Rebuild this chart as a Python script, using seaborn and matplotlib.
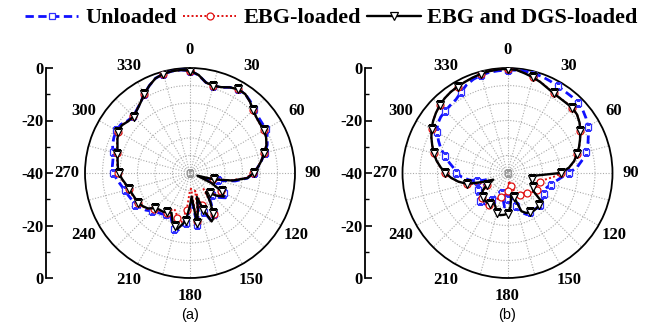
import numpy as np
import pandas as pd
import matplotlib
matplotlib.use("Agg")
import matplotlib.pyplot as plt
from matplotlib.lines import Line2D
import seaborn as sns

# ---- panel (a): azimuth angles (deg) and normalized gain (dB) ----
angles_a = [0, 5, 10, 15, 20, 25, 30, 35, 40, 45, 50, 55, 60, 65, 70, 75, 80, 85, 90, 95,
            100, 105, 110, 115, 120, 125, 130, 135, 140, 145, 150, 153, 156, 160, 164, 168,
            172, 176, 180, 185, 190, 193, 196, 200, 205, 210, 215, 220, 225, 230, 235, 240,
            245, 250, 255, 260, 265, 270, 275, 280, 285, 290, 295, 300, 305, 310, 315, 320,
            325, 330, 335, 340, 345, 350, 355]
unloaded_a = [-1.0, -2.6, -5.0, -5.6, -5.3, -4.0, -3.2, -3.3, -4.3, -5.5, -6.3, -6.6, -6.6,
              -7.5, -8.7, -10.5, -12.3, -14.0, -15.8, -18.0, -22.5, -29.0, -34.0, -29.0,
              -25.0, -23.5, -25.5, -28.0, -30.0, -26.0, -22.0, -20.5, -20.0, -24.0, -29.0,
              -24.5, -20.0, -29.0, -26.5, -21.0, -18.5, -17.3, -18.0, -20.0, -22.3, -21.8,
              -21.0, -20.5, -19.5, -18.0, -17.0, -16.0, -15.6, -15.0, -14.3, -13.3, -12.0,
              -10.8, -10.3, -10.2, -9.6, -8.6, -8.0, -7.6, -7.8, -9.0, -9.4, -8.5, -7.2,
              -5.2, -3.3, -1.6, -0.9, -0.6, -0.6]
ebg_a = [-1.0, -2.6, -5.1, -5.6, -5.2, -4.0, -3.2, -3.3, -4.5, -6.1, -7.1, -7.5, -7.4, -8.0,
         -9.0, -10.9, -12.4, -14.1, -16.0, -18.5, -24.0, -31.0, -36.0, -31.0, -26.5, -24.5,
         -27.0, -30.0, -32.0, -27.0, -22.0, -20.5, -20.0, -27.0, -33.0, -27.0, -21.5, -34.0,
         -33.5, -26.0, -21.0, -20.5, -22.0, -24.5, -25.0, -22.5, -21.8, -21.5, -20.8, -18.8,
         -17.8, -17.0, -16.8, -16.4, -15.8, -15.0, -13.8, -12.7, -12.2, -11.8, -11.2, -10.4,
         -9.4, -8.4, -8.2, -9.2, -9.5, -8.5, -7.1, -5.2, -3.3, -1.6, -0.9, -0.6, -0.6]
ebg_dgs_a = [-1.0, -2.5, -5.0, -5.6, -5.2, -4.0, -3.2, -3.3, -4.5, -6.0, -7.0, -7.4, -7.4,
             -8.0, -9.0, -10.8, -12.3, -14.0, -15.8, -18.0, -23.5, -30.5, -37.0, -31.0,
             -26.0, -24.3, -26.5, -29.0, -30.5, -26.5, -22.5, -20.5, -19.8, -25.0, -30.5,
             -25.5, -20.7, -31.0, -27.5, -21.8, -19.5, -18.0, -18.8, -20.5, -23.3, -22.8,
             -22.0, -21.8, -21.0, -19.0, -18.0, -17.3, -17.0, -16.6, -16.0, -15.2, -14.0,
             -12.9, -12.4, -12.0, -11.4, -10.6, -9.5, -8.5, -8.3, -9.3, -9.6, -8.6, -7.2,
             -5.2, -3.3, -1.6, -0.9, -0.6, -0.6]

# ---- panel (b) ----
angles_b = list(range(0, 360, 5))
unloaded_b = [-0.8, -0.7, -0.7, -0.8, -1.0, -1.4, -1.8, -2.0, -2.0, -2.1, -2.6, -3.5, -4.7,
              -6.0, -7.4, -9.0, -11.0, -13.3, -16.5, -19.5, -21.5, -23.0, -24.0, -24.5,
              -24.0, -23.5, -23.0, -22.5, -22.5, -23.0, -23.0, -22.5, -24.0, -27.0, -30.0,
              -33.0, -30.0, -27.0, -30.0, -32.0, -33.0, -31.0, -28.0, -25.5, -25.0, -25.0,
              -25.3, -26.0, -27.0, -32.0, -33.0, -28.0, -25.0, -22.5, -20.5, -19.5, -17.5,
              -15.5, -13.0, -11.0, -9.0, -7.5, -6.8, -6.5, -6.2, -5.8, -4.5, -3.0, -2.0,
              -1.4, -1.0, -0.9]
ebg_b = [-0.3, -0.6, -1.4, -2.2, -3.1, -4.1, -4.8, -5.1, -5.1, -5.0, -5.4, -6.4, -7.9, -9.4,
         -10.9, -12.5, -14.2, -16.3, -19.5, -22.5, -25.5, -27.0, -28.0, -27.5, -27.0, -27.5,
         -28.5, -29.4, -30.0, -30.5, -30.4, -31.0, -33.0, -35.0, -37.0, -35.0, -33.0, -32.0,
         -31.0, -30.6, -30.0, -28.0, -26.0, -25.5, -26.0, -26.5, -27.5, -29.0, -31.0, -33.0,
         -28.0, -24.0, -21.0, -18.5, -16.2, -14.3, -12.5, -11.0, -9.5, -8.0, -6.6, -5.4,
         -4.4, -3.5, -2.8, -2.3, -2.0, -1.7, -1.3, -0.9, -0.6, -0.4]
ebg_dgs_b = [-0.3, -0.6, -1.5, -2.3, -3.2, -4.2, -4.9, -5.2, -5.2, -5.0, -5.4, -6.5, -8.0,
             -9.5, -11.0, -12.6, -14.3, -16.5, -19.8, -29.0, -30.8, -30.5, -30.0, -29.5,
             -29.0, -28.0, -23.0, -23.0, -22.6, -22.5, -22.8, -23.2, -24.5, -30.5, -32.0,
             -27.0, -24.5, -24.0, -23.7, -24.2, -26.5, -27.6, -26.5, -26.3, -26.5, -27.0,
             -27.5, -28.5, -31.0, -34.0, -30.0, -24.0, -21.0, -18.5, -16.3, -14.4, -12.5,
             -11.0, -9.5, -8.0, -6.6, -5.4, -4.4, -3.5, -2.8, -2.3, -2.0, -1.7, -1.3, -0.9,
             -0.6, -0.4]

series_names = ["Unloaded", "EBG-loaded", "EBG and DGS-loaded"]
theta_ticks = list(range(0, 360, 30))
r_tick_values = [0, 20, 40, 60, 80]
r_tick_labels = ["0", "-20", "-40", "-20", "0"]
captions = ["(a)", "(b)"]

sns.set_theme(style="white")
plt.rcParams["font.family"] = ["Liberation Serif", "DejaVu Serif"]
plt.rcParams["text.color"] = "black"
plt.rcParams["axes.edgecolor"] = "black"
plt.rcParams["xtick.color"] = "black"
plt.rcParams["ytick.color"] = "black"

styles = {
    "Unloaded": dict(color="#1010ff", linewidth=2.0, linestyle=(0, (3.0, 1.6)),
                     marker="s", markersize=4.8, markerfacecolor="white",
                     markeredgecolor="#3030ff", markeredgewidth=0.9),
    "EBG-loaded": dict(color="#e01010", linewidth=1.4, linestyle=(0, (1.0, 1.2)),
                       marker="o", markersize=5.0, markerfacecolor="white",
                       markeredgecolor="#e01010", markeredgewidth=0.9),
    "EBG and DGS-loaded": dict(color="black", linewidth=1.7, linestyle="-",
                               marker="v", markersize=6.0, markerfacecolor="white",
                               markeredgecolor="black", markeredgewidth=0.9),
}

W, H = 660, 329
fig = plt.figure(figsize=(W / 100, H / 100), dpi=100)

R = 105
tick_font = dict(family="Liberation Serif", weight="bold", size=12)


def draw_panel(cx, cy, axis_x, angles, series, caption):
    rect = [(cx - R) / W, (H - cy - R) / H, 2 * R / W, 2 * R / H]
    ax = fig.add_axes(rect, projection="polar")
    ax.set_theta_zero_location("N")
    ax.set_theta_direction(-1)
    theta = np.deg2rad(np.r_[angles, 360])
    for name, vals in zip(series_names, series):
        df = pd.DataFrame({"theta": theta, "gain": np.r_[vals, vals[0]]})
        sns.lineplot(data=df, x="theta", y="gain", ax=ax, sort=False, estimator=None,
                     errorbar=None, markevery=3, zorder=3, **styles[name])
    ax.plot(0, -40, marker="s", markersize=4, markerfacecolor="none",
            markeredgecolor="#999999", markeredgewidth=0.8, zorder=2)
    ax.set_ylim(-40, 0)
    ax.set_yticks(np.linspace(-40, 0, 7)[1:-1])
    ax.set_yticklabels([])
    ax.set_xticks(np.deg2rad(theta_ticks))
    ax.set_xticklabels([str(t) for t in theta_ticks], fontdict=tick_font)
    ax.set_xticks(np.deg2rad(np.arange(15, 360, 30)), minor=True)
    ax.xaxis.grid(True, which="both", color="#ababab", linestyle=(0, (1, 1.5)), linewidth=0.8)
    ax.yaxis.grid(True, color="#ababab", linestyle=(0, (1, 1.5)), linewidth=0.8)
    ax.tick_params(axis="x", which="major", direction="in", length=5, width=1.0, pad=6)
    ax.tick_params(axis="x", which="minor", length=0)
    ax.spines["polar"].set_linewidth(1.3)
    ax.spines["polar"].set_color("black")
    ax.set_xlabel("")
    ax.set_ylabel("")

    # stand-alone radial scale on the left
    rax = fig.add_axes([axis_x / W, rect[1], 0.0001, rect[3]])
    rax.set_ylim(0, 80)
    rax.set_yticks(r_tick_values)
    rax.set_yticklabels(r_tick_labels, fontdict=tick_font)
    rax.set_yticks([10, 30, 50, 70], minor=True)
    rax.tick_params(axis="y", which="both", left=True, direction="in")
    rax.tick_params(axis="y", which="major", length=5, width=1.2, pad=2)
    rax.tick_params(axis="y", which="minor", length=3, width=1.0)
    rax.set_xticks([])
    for s in ["top", "right", "bottom"]:
        rax.spines[s].set_visible(False)
    rax.spines["left"].set_linewidth(1.3)
    rax.patch.set_visible(False)

    fig.text(cx / W, 1 - 315 / H, caption, family="Liberation Sans", size=10.5,
             ha="center", va="center")
    return ax


draw_panel(190, 173, 46, angles_a, [unloaded_a, ebg_a, ebg_dgs_a], captions[0])
draw_panel(507.5, 173, 365, angles_b, [unloaded_b, ebg_b, ebg_dgs_b], captions[1])

handles = [Line2D([], [], **styles[n]) for n in series_names]
fig.legend(handles, series_names, loc="center", bbox_to_anchor=(0.502, 0.945), ncol=3,
           frameon=False, prop=dict(family="Liberation Serif", weight="bold", size=16),
           handlelength=2.4, handletextpad=0.3, columnspacing=0.3, borderaxespad=0,
           numpoints=1)

fig.savefig("out.png", dpi=100)
